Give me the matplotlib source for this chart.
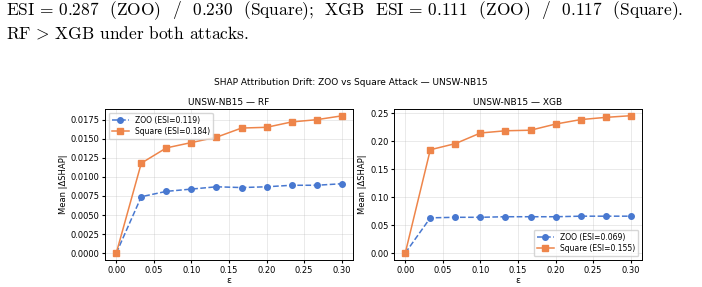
import matplotlib
matplotlib.use("Agg")
import matplotlib.pyplot as plt

plt.rcParams["mathtext.fontset"] = "cm"

eps = [0.0, 0.0333, 0.0667, 0.1, 0.1333, 0.1667, 0.2, 0.2333, 0.2667, 0.3]

rf_zoo = [0.0, 0.0074, 0.0081, 0.0084, 0.0087, 0.0086, 0.0087, 0.0089, 0.0089, 0.0091]
rf_square = [0.0, 0.0118, 0.0138, 0.0145, 0.0152, 0.0164, 0.0165, 0.0172, 0.0175, 0.0180]
xgb_zoo = [0.0, 0.063, 0.064, 0.064, 0.065, 0.065, 0.065, 0.066, 0.066, 0.066]
xgb_square = [0.0, 0.185, 0.196, 0.215, 0.219, 0.220, 0.231, 0.239, 0.243, 0.246]

esi = {"rf": (0.119, 0.184), "xgb": (0.069, 0.155)}

text_line1 = "ESI$\\,=\\,$0.287  (ZOO)  /  0.230  (Square);  XGB  ESI$\\,=\\,$0.111  (ZOO)  /  0.117  (Square)."
text_line2 = "RF$\\,>\\,$XGB under both attacks."

BLUE = "#4878d0"
ORANGE = "#ee854a"


def draw_panel(ax, zoo, square, title, esi_pair, yticks, yfmt, legend_loc):
    ax.plot(eps, zoo, color=BLUE, linestyle="--", marker="o", markersize=4,
            linewidth=1.1, label=f"ZOO (ESI={esi_pair[0]:.3f})")
    ax.plot(eps, square, color=ORANGE, linestyle="-", marker="s", markersize=4,
            linewidth=1.1, label=f"Square (ESI={esi_pair[1]:.3f})")
    ax.set_title(title, fontsize=6.5, pad=3)
    ax.set_xlabel("ε", fontsize=6.5, labelpad=1)
    ax.set_ylabel("Mean |ΔSHAP|", fontsize=6, labelpad=2)
    ax.set_xticks([0.0, 0.05, 0.1, 0.15, 0.2, 0.25, 0.3])
    ax.set_xticklabels([f"{t:.2f}" for t in ax.get_xticks()])
    ax.set_yticks(yticks)
    ax.set_yticklabels([yfmt.format(t) for t in yticks])
    ax.tick_params(labelsize=6, length=2.5, pad=1.5)
    ax.grid(alpha=0.3, linewidth=0.6)
    for s in ax.spines.values():
        s.set_linewidth(0.7)
    ax.legend(loc=legend_loc, fontsize=5.5, frameon=True, handlelength=2.2,
              borderpad=0.4, labelspacing=0.3)


fig = plt.figure(figsize=(7.02, 2.87), dpi=100)

fig.text(0.008, 0.962, text_line1, family="cmr10", fontsize=12.5, va="center")
fig.text(0.008, 0.885, text_line2, family="cmr10", fontsize=12.5, va="center")
fig.text(0.5, 0.714, "SHAP Attribution Drift: ZOO vs Square Attack — UNSW-NB15",
         fontsize=6.5, ha="center", va="center")

ax1 = fig.add_axes([105 / 702, 1 - 260 / 287, 248 / 702, 151 / 287])
ax2 = fig.add_axes([394 / 702, 1 - 260 / 287, 248 / 702, 151 / 287])

draw_panel(ax1, rf_zoo, rf_square, "UNSW-NB15 — RF", esi["rf"],
           [0.0, 0.0025, 0.005, 0.0075, 0.01, 0.0125, 0.015, 0.0175], "{:.4f}", "upper left")
ax1.set_ylim(-0.0009, 0.0189)
draw_panel(ax2, xgb_zoo, xgb_square, "UNSW-NB15 — XGB", esi["xgb"],
           [0.0, 0.05, 0.1, 0.15, 0.2, 0.25], "{:.2f}", "lower right")
ax2.set_ylim(-0.0125, 0.258)
for ax in (ax1, ax2):
    ax.set_xlim(-0.015, 0.315)

fig.savefig("out.png", dpi=100)
plt.close(fig)
